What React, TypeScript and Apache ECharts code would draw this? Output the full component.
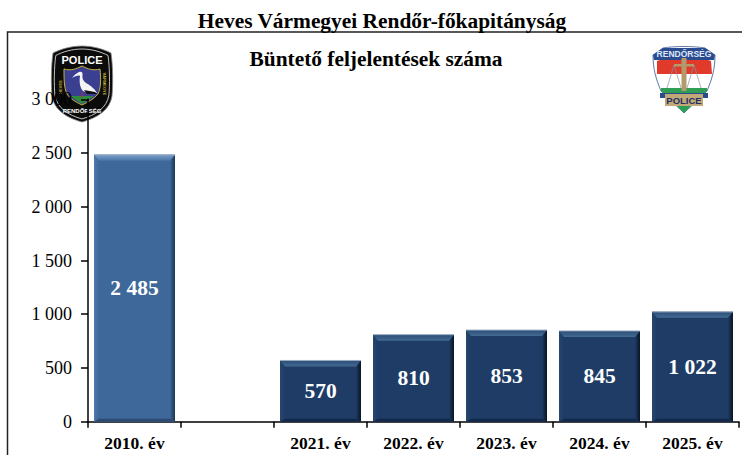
import React, { useEffect, useRef } from "react";
import * as echarts from "echarts";

const categories = ["2010. év", "", "2021. év", "2022. év", "2023. év", "2024. év", "2025. év"];
const values = [2485, null, 570, 810, 853, 845, 1022];
const yTicks = { min: 0, max: 3000, interval: 500 };
const FONT = '"Liberation Serif", "Times New Roman", serif';
const SANS = '"Liberation Sans", Arial, sans-serif';

const fmt = (v: number) => String(v).replace(/\B(?=(\d{3})+$)/g, " ");

const shieldD = "M31 0 C42 0 52 3 60 7 C62 20 62 40 61 50 C59 64 46 72 31 76 C16 72 3 64 1 50 C0 40 0 20 2 7 C10 3 20 0 31 0 Z";
const innerD = "M0 3 C7 5 12 3 18 0 C24 3 29 5 36 3 C37 13 37 22 34 28 C30 33 24 36 18 39 C12 36 6 33 3 28 C0 22 0 13 0 3 Z";
const crestD = "M1 8 L11 1 C22 -1 42 -1 53 1 L63 8 C63 22 60 32 55 44 L32 66 L9 44 C4 32 1 22 1 8 Z";
const storkD = "M13 4 C15 3 17 4 16.5 7 C16 10 17 13 20 15 C24 17 28 20 31 25 C25 24 20 25 17 23 C14 20 13 14 14 8 C13 7 9 8 6 10 C8 7 11 5 13 4 Z";
echarts.graphic.registerShape("badgeShield", echarts.graphic.extendPath(shieldD, {}));
echarts.graphic.registerShape("badgeInner", echarts.graphic.extendPath(innerD, {}));
echarts.graphic.registerShape("crestShape", echarts.graphic.extendPath(crestD, {}));
echarts.graphic.registerShape("stork", echarts.graphic.extendPath(storkD, {}));

const grad = (x2: number, y2: number, a: string, b: string) => ({
  type: "linear", x: 0, y: 0, x2, y2,
  colorStops: [{ offset: 0, color: a }, { offset: 1, color: b }],
});

export default function App() {
  const ref = useRef<HTMLDivElement>(null);
  useEffect(() => {
    document.body.style.margin = "0";
    const chart = echarts.init(ref.current!, undefined, { renderer: "svg" });

    const renderBevel = (params: any, api: any) => {
      const idx = api.value(0);
      const v = api.value(1);
      const top = api.coord([idx, v]);
      const base = api.coord([idx, 0]);
      const w = api.size([1, 0])[0] * 0.87;
      const l = top[0] - w / 2, r = top[0] + w / 2, t = top[1], b = base[1];
      const first = params.dataIndex === 0;
      const body = first ? "#3e6899" : "#1e3c66";
      const topFill = first ? grad(0, 1, "#7fa0c8", "#4a76a8") : grad(0, 1, "#2b4d78", "#446b92");
      const leftFill = first ? grad(1, 0, "#4f7aab", body) : grad(1, 0, "#25466f", body);
      const rightFill = first ? grad(1, 0, body, "#1d3350") : grad(1, 0, body, "#081322");
      const botC = first ? "#2c4a70" : "#14294a";
      const bt = 6, bs = 5, bb = 3;
      const poly = (pts: number[][], fill: any) => ({ type: "polygon", shape: { points: pts }, style: { fill }, silent: true });
      return {
        type: "group",
        children: [
          poly([[l, t], [l + bs, t + bt], [l + bs, b - bb], [l, b]], leftFill),
          poly([[r, t], [r - bs, t + bt], [r - bs, b - bb], [r, b]], rightFill),
          poly([[l, t], [r, t], [r - bs, t + bt], [l + bs, t + bt]], topFill),
          poly([[l, b], [l + bs, b - bb], [r - bs, b - bb], [r, b]], botC),
          { type: "line", shape: { x1: l, y1: t, x2: r, y2: t }, style: { stroke: "#9fb0c4", lineWidth: 1 }, silent: true },
        ],
      };
    };

    const ty = 99.3, bot = 421.7;
    chart.setOption({
      animation: false,
      textStyle: { fontFamily: FONT },
      grid: { left: 88, top: ty, width: 651, height: bot - ty, containLabel: false },
      xAxis: {
        type: "category",
        data: categories,
        boundaryGap: true,
        axisLine: { lineStyle: { color: "#000", width: 1.5 } },
        axisTick: { show: true, alignWithLabel: false, interval: 0, length: 6, lineStyle: { color: "#000", width: 1.5 } },
        axisLabel: { interval: 0, color: "#000", fontFamily: FONT, fontWeight: "bold", fontSize: 17.5, margin: 12 },
      },
      yAxis: [
        {
          type: "value", ...yTicks, z: 0,
          axisLine: { show: false }, axisTick: { show: false }, splitLine: { show: false },
          axisLabel: { color: "#000", fontFamily: FONT, fontSize: 18, margin: 16, formatter: (v: number) => fmt(v) },
        },
        {
          type: "value", position: "left", ...yTicks, z: 8,
          axisLine: { show: true, onZero: false, lineStyle: { color: "#000", width: 1.5 } },
          axisTick: { show: true, length: 7, lineStyle: { color: "#000", width: 1.5 } },
          axisLabel: { show: false }, splitLine: { show: false },
        },
      ],
      series: [
        {
          type: "bar",
          barWidth: "87%",
          data: values.map((v, i) => ({
            value: v,
            itemStyle: { color: i === 0 ? "#3e6899" : "#1e3c66" },
          })),
          label: {
            show: true, position: "inside", color: "#fff", fontFamily: FONT, fontWeight: "bold", fontSize: 21.5,
            formatter: (p: any) => fmt(p.value),
          },
          z: 2,
        },
        {
          type: "custom",
          renderItem: renderBevel,
          encode: { x: 0, y: 1 },
          data: values.map((v, i) => [i, v]).filter((d) => d[1] != null),
          z: 3,
          silent: true,
        },
      ],
      graphic: [
        { type: "polyline", z: 1, shape: { points: [[7.5, 455], [7.5, 32], [742, 32]] }, style: { stroke: "#222", lineWidth: 1.5, fill: "none" } },
        { type: "text", z: 1, x: 382, y: 21, style: { text: "Heves Vármegyei Rendőr-főkapitányság", font: `bold 21.4px ${FONT}`, fill: "#000", align: "center", verticalAlign: "middle" } },
        { type: "text", z: 1, x: 376, y: 59, style: { text: "Büntető feljelentések száma", font: `bold 21.4px ${FONT}`, fill: "#000", align: "center", verticalAlign: "middle" } },
        {
          type: "group", x: 51, y: 46, z: 5,
          children: [
            { type: "badgeShield", style: { fill: "#0b0b0b", stroke: "#8a8a8a", lineWidth: 0.8 } },
            { type: "badgeShield", x: 3, y: 3, scaleX: 0.9, scaleY: 0.92, style: { fill: "#0b0b0b", stroke: "#e8e8e8", lineWidth: 0.9 } },
            { type: "text", x: 31, y: 14, style: { text: "POLICE", font: `bold 11px ${SANS}`, fill: "#fff", align: "center", verticalAlign: "middle" } },
            { type: "text", x: 9, y: 41, rotation: Math.PI / 2, style: { text: "HEVES", font: `bold 4px ${SANS}`, fill: "#c9b23a", align: "center", verticalAlign: "middle" } },
            { type: "text", x: 53, y: 38, rotation: -Math.PI / 2, style: { text: "VÁRMEGYE", font: `bold 4px ${SANS}`, fill: "#c9b23a", align: "center", verticalAlign: "middle" } },
            { type: "badgeInner", x: 13, y: 20, style: { fill: "#3a3f92", stroke: "#c9b23a", lineWidth: 1 } },
            { type: "polygon", shape: { points: [[19, 50], [43, 50], [31, 58]] }, style: { fill: "#2f8a3a" } },
            { type: "stork", x: 15, y: 22, style: { fill: "#f4f4f4" } },
            { type: "polygon", shape: { points: [[33, 44], [44, 46], [46, 48], [36, 48]] }, style: { fill: "#111" } },
            { type: "line", shape: { x1: 31, y1: 46, x2: 31, y2: 52 }, style: { stroke: "#b5314a", lineWidth: 1 } },
            { type: "text", x: 31, y: 65, style: { text: "RENDŐRSÉG", font: `bold 6px ${SANS}`, fill: "#fff", align: "center", verticalAlign: "middle" } },
          ],
        },
        {
          type: "group", x: 652, y: 47, z: 5,
          children: [
            { type: "crestShape", style: { fill: "#fff", stroke: "#5f78a8", lineWidth: 1 } },
            { type: "polygon", shape: { points: [[5, 14], [11, 12], [53, 12], [59, 14], [60, 27], [5, 27]] }, style: { fill: "#e23a2a" } },
            { type: "polygon", shape: { points: [[1, 8], [11, 1], [53, 1], [63, 8], [62, 13], [2, 13]] }, style: { fill: "#2a4b8f" } },
            { type: "polygon", shape: { points: [[9, 41], [55, 41], [55, 44], [32, 66], [9, 44]] }, style: { fill: "#2e9e55" } },
            { type: "polyline", shape: { points: [[15, 41], [22, 18], [29, 41]] }, style: { stroke: "#7d93a8", lineWidth: 0.7, fill: "none" } },
            { type: "polyline", shape: { points: [[35, 41], [42, 18], [49, 41]] }, style: { stroke: "#7d93a8", lineWidth: 0.7, fill: "none" } },
            { type: "rect", shape: { x: 29.5, y: 11, width: 5, height: 33 }, style: { fill: "#b39a6a" } },
            { type: "rect", shape: { x: 22, y: 17, width: 20, height: 2.5 }, style: { fill: "#b39a6a" } },
            { type: "rect", shape: { x: 8, y: 46, width: 48, height: 5 }, style: { fill: "#2a4b8f" } },
            { type: "rect", shape: { x: 13, y: 47, width: 38, height: 12 }, style: { fill: "#c2a877" } },
            { type: "text", x: 32, y: 53.5, style: { text: "POLICE", font: `bold 9.5px ${SANS}`, fill: "#1f2f66", align: "center", verticalAlign: "middle" } },
            { type: "text", x: 32, y: 6.5, style: { text: "RENDŐRSÉG", font: `bold 8.5px ${SANS}`, fill: "#dfe7f7", align: "center", verticalAlign: "middle" } },
          ],
        },
      ],
    });
    return () => chart.dispose();
  }, []);
  return <div ref={ref} style={{ width: 742, height: 455, position: "absolute", left: 0, top: 0 }} />;
}
